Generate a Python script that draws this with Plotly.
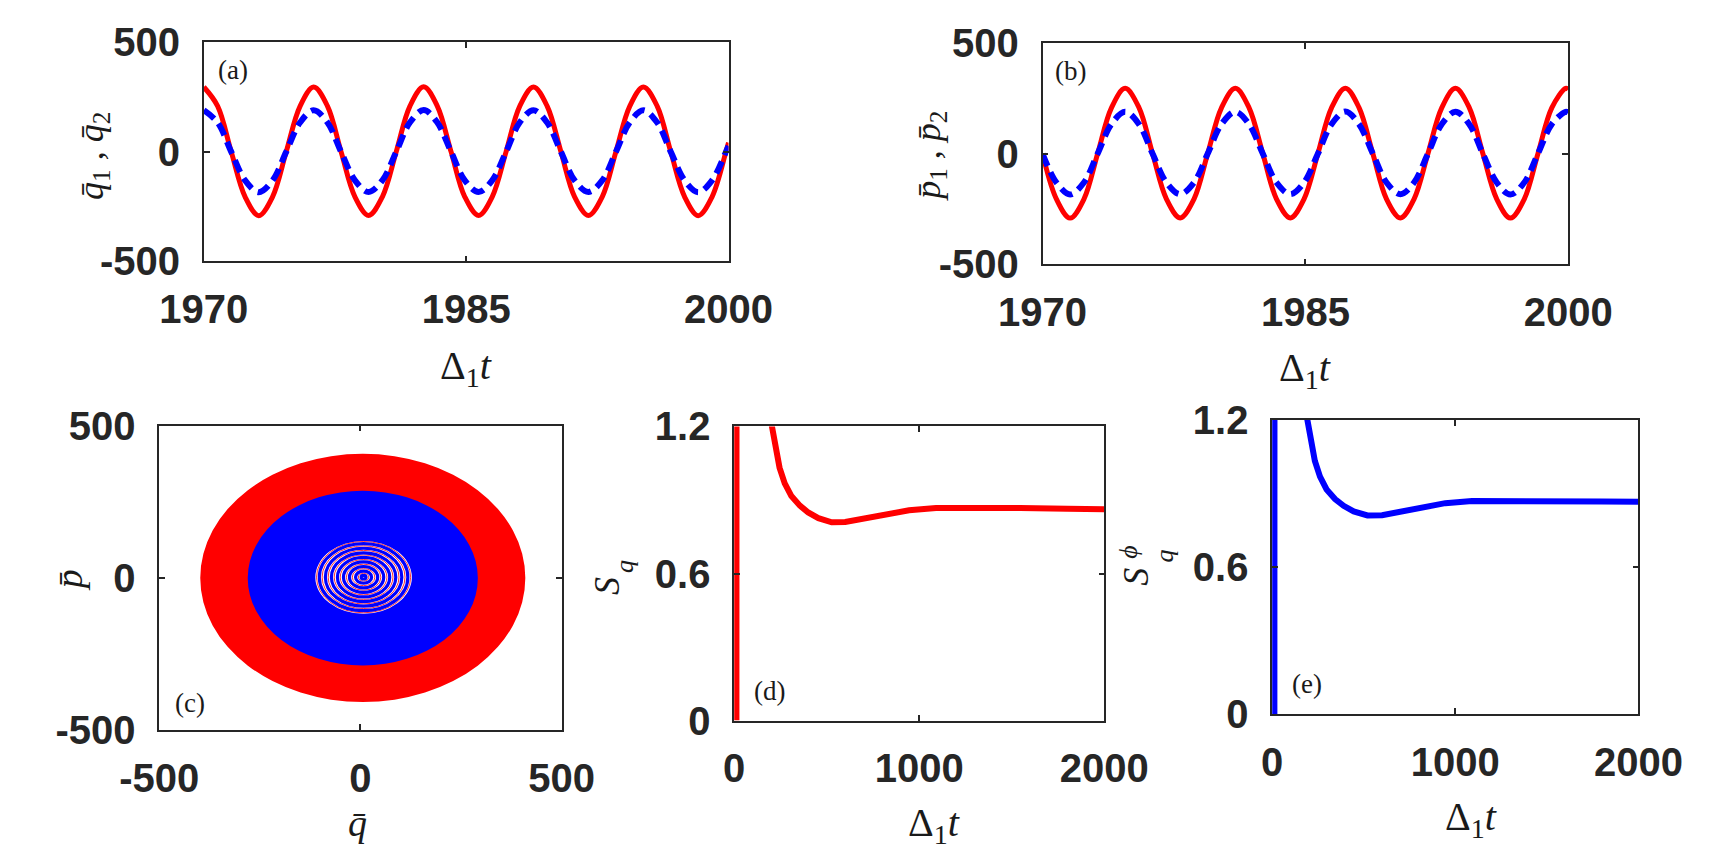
import plotly.graph_objects as go

W, H = 1720, 855

# ---------------- data ----------------
# panels (a),(b): time axis
t_top = [1970.00, 1970.79, 1971.57, 1972.36, 1973.14, 1973.93, 1974.71, 1975.50,
         1976.28, 1977.07, 1977.85, 1978.64, 1979.42, 1980.21, 1981.00, 1981.78,
         1982.57, 1983.35, 1984.14, 1984.92, 1985.71, 1986.49, 1987.28, 1988.06,
         1988.85, 1989.63, 1990.42, 1991.20, 1991.99, 1992.78, 1993.56, 1994.35,
         1995.13, 1995.92, 1996.70, 1997.49, 1998.27, 1999.06, 1999.85, 2000.00]
q1 = [296, 209, 0, -205, -291, -205, 0, 208,
      296, 209, 0, -205, -290, -205, 0, 208,
      297, 209, 0, -205, -290, -205, 0, 208,
      296, 209, 0, -205, -290, -205, 0, 208,
      296, 209, 0, -205, -291, -205, 0, 42]
q2 = [190, 134, 0, -130, -184, -130, 0, 134,
      190, 134, 0, -130, -183, -130, 0, 134,
      191, 134, 0, -130, -183, -130, 0, 134,
      190, 134, 0, -130, -183, -130, 0, 134,
      190, 134, 0, -130, -184, -130, 0, 27]
p1 = [0, -205, -291, -205, 0, 208, 296, 209,
      0, -205, -290, -205, 0, 208, 296, 209,
      0, -205, -290, -205, 0, 208, 297, 209,
      0, -205, -290, -205, 0, 208, 296, 209,
      0, -205, -291, -205, 0, 208, 296, 292]
p2 = [0, -130, -184, -130, 0, 134, 190, 134,
      0, -130, -183, -130, 0, 134, 190, 134,
      0, -130, -183, -130, 0, 134, 191, 134,
      0, -130, -183, -130, 0, 134, 190, 134,
      0, -130, -184, -130, 0, 134, 190, 187]

# panel (c): phase-space regions (q extents, p extents)
red_q_ext = [-398, 410]
red_p_ext = [-408, 407]
blue_q_ext = [-280, 292]
blue_p_ext = [-288, 286]
inner_q_ext = [-112, 128]
inner_p_ext = [-118, 121]
spiral_center = [8, 2]
blue_ring_r = [6, 20, 35, 50, 65, 80, 95, 110]
red_ring_r = [13, 28, 43, 58, 73, 88, 103, 117]

# panels (d),(e)
t_Sq = [12, 14, 204, 222, 245, 273, 309, 355, 400, 455, 527, 600, 691, 818, 945,
        1091, 1273, 1545, 1800, 2000]
Sq = [0, 6.0, 1.2, 1.116, 1.032, 0.968, 0.916, 0.877, 0.849, 0.826, 0.809, 0.810,
      0.822, 0.843, 0.858, 0.867, 0.868, 0.867, 0.864, 0.862]
t_Sphi = [12, 14, 192, 210, 233, 261, 297, 343, 390, 445, 520, 600, 691, 818, 945,
          1091, 1273, 1545, 1800, 2000]
Sphi = [0, 6.0, 1.2, 1.116, 1.032, 0.968, 0.916, 0.877, 0.849, 0.826, 0.810, 0.811,
        0.823, 0.845, 0.860, 0.869, 0.870, 0.869, 0.867, 0.866]

# tick labels
ticks_pm500 = [-500, 0, 500]
ticks_pm500_txt = ["-500", "0", "500"]
ticks_years = [1970, 1985, 2000]
ticks_years_txt = ["1970", "1985", "2000"]
ticks_t = [0, 1000, 2000]
ticks_t_txt = ["0", "1000", "2000"]
ticks_S = [0, 0.6, 1.2]
ticks_S_txt = ["0", "0.6", "1.2"]

RED = "#FF0000"
BLUE = "#0000FF"
AX = "#262626"
TXT = "#1a1a1a"

# ---------------- layout helpers ----------------
def dx(l, r):
    return [l / W, r / W]

def dy(t, b):
    return [1 - b / H, 1 - t / H]

boxes = {
    1: (160, 713, 13, 244),
    2: (1044, 1598, 14, 247),
    3: (113, 537, 417, 738),
    4: (719, 1109, 418, 728),
    5: (1286, 1672, 411, 721),
}

tickfont = dict(family="Liberation Sans", size=40, color=AX, weight="bold")

def xaxis(i, rng, tv, tt):
    l, r, t, b = boxes[i]
    return dict(domain=dx(l, r), range=rng, tickvals=tv, ticktext=tt, anchor="y" + ("" if i == 1 else str(i)),
                showline=True, linecolor=AX, linewidth=1.5, mirror="ticks", ticks="inside",
                ticklen=6, tickwidth=1.5, tickcolor=AX, tickfont=tickfont, showgrid=False,
                zeroline=False, ticklabelstandoff=12)

def yaxis(i, rng, tv, tt):
    l, r, t, b = boxes[i]
    return dict(domain=dy(t, b), range=rng, tickvals=tv, ticktext=tt, anchor="x" + ("" if i == 1 else str(i)),
                showline=True, linecolor=AX, linewidth=1.5, mirror="ticks", ticks="inside",
                ticklen=6, tickwidth=1.5, tickcolor=AX, tickfont=tickfont, showgrid=False,
                zeroline=False, ticklabelstandoff=14)

fig = go.Figure()

# (a)
fig.add_trace(go.Scatter(x=t_top, y=q1, mode="lines", line=dict(color=RED, width=5, shape="spline"),
                         xaxis="x", yaxis="y"))
fig.add_trace(go.Scatter(x=t_top, y=q2, mode="lines",
                         line=dict(color=BLUE, width=6, shape="spline", dash="13px,7px"),
                         xaxis="x", yaxis="y"))
# (b)
fig.add_trace(go.Scatter(x=t_top, y=p1, mode="lines", line=dict(color=RED, width=5, shape="spline"),
                         xaxis="x2", yaxis="y2"))
fig.add_trace(go.Scatter(x=t_top, y=p2, mode="lines",
                         line=dict(color=BLUE, width=6, shape="spline", dash="13px,7px"),
                         xaxis="x2", yaxis="y2"))
# (d)
fig.add_trace(go.Scatter(x=t_Sq, y=Sq, mode="lines", line=dict(color=RED, width=6),
                         xaxis="x4", yaxis="y4"))
# (e)
fig.add_trace(go.Scatter(x=t_Sphi, y=Sphi, mode="lines", line=dict(color=BLUE, width=6),
                         xaxis="x5", yaxis="y5"))

# (c) phase space as shapes in data coords
shapes = []
def disk(qe, pe, color):
    shapes.append(dict(type="circle", xref="x3", yref="y3", x0=qe[0], x1=qe[1], y0=pe[0], y1=pe[1],
                       fillcolor=color, line=dict(width=0, color="rgba(0,0,0,0)"), layer="below"))
disk(red_q_ext, red_p_ext, RED)
disk(blue_q_ext, blue_p_ext, BLUE)
disk(inner_q_ext, inner_p_ext, "#FFFFFF")
cq, cp = spiral_center
for r in red_ring_r:
    shapes.append(dict(type="circle", xref="x3", yref="y3", x0=cq - r, x1=cq + r, y0=cp - r, y1=cp + r,
                       line=dict(width=0.8, color=RED), layer="below"))
for r in blue_ring_r:
    shapes.append(dict(type="circle", xref="x3", yref="y3", x0=cq - r, x1=cq + r, y0=cp - r, y1=cp + r,
                       line=dict(width=3.2, color=BLUE), layer="below"))

# annotations (axis titles and panel labels)
ann = []
serif = "Liberation Serif, Times New Roman, serif"
def label(txt, x, y, size=38, angle=0):
    ann.append(dict(text=txt, x=x / W, y=1 - y / H, xref="paper", yref="paper", showarrow=False,
                    xanchor="center", yanchor="middle", textangle=angle,
                    font=dict(family=serif, size=size, color=TXT)))

dt = "Δ<sub>1</sub><i>t</i>"
label(dt, 436, 356, size=40)
label(dt, 1321, 358, size=40)
label(dt, 930, 838, size=40)
label(dt, 1495, 832, size=40)
label("<i>q̄</i>", 322, 836, size=38)
label("<i>q̄</i><sub>1</sub> , <i>q̄</i><sub>2</sub>", 43, 133, size=36, angle=-90)
label("<i>p̄</i><sub>1</sub> , <i>p̄</i><sub>2</sub>", 925, 133, size=36, angle=-90)
label("<i>p̄</i>", 18, 580, size=38, angle=-90)
# S_q (d)
label("<i>S</i>", 585, 586, size=36, angle=-90)
label("<i>q</i>", 604, 566, size=26, angle=-90)
# S_q^phi (e)
label("<i>S</i>", 1143, 577, size=36, angle=-90)
label("<i>q</i>", 1172, 555, size=26, angle=-90)
label("<i>ϕ</i>", 1135, 550, size=26, angle=-90)

def panel(txt, x, y):
    ann.append(dict(text=txt, x=x / W, y=1 - y / H, xref="paper", yref="paper", showarrow=False,
                    xanchor="left", yanchor="middle",
                    font=dict(family=serif, size=27, color=TXT)))
panel("(a)", 173, 42)
panel("(b)", 1055, 43)
panel("(c)", 127, 710)
panel("(d)", 738, 697)
panel("(e)", 1305, 690)

fig.update_layout(
    width=W, height=H, margin=dict(l=0, r=0, t=0, b=0),
    paper_bgcolor="white", plot_bgcolor="white", showlegend=False,
    xaxis=xaxis(1, [1970, 2000], ticks_years, ticks_years_txt),
    yaxis=yaxis(1, [-500, 500], ticks_pm500, ticks_pm500_txt),
    xaxis2=xaxis(2, [1970, 2000], ticks_years, ticks_years_txt),
    yaxis2=yaxis(2, [-500, 500], ticks_pm500, ticks_pm500_txt),
    xaxis3=xaxis(3, [-500, 500], ticks_pm500, ticks_pm500_txt),
    yaxis3=yaxis(3, [-500, 500], ticks_pm500, ticks_pm500_txt),
    xaxis4=xaxis(4, [0, 2000], ticks_t, ticks_t_txt),
    yaxis4=yaxis(4, [0, 1.2], ticks_S, ticks_S_txt),
    xaxis5=xaxis(5, [0, 2000], ticks_t, ticks_t_txt),
    yaxis5=yaxis(5, [0, 1.2], ticks_S, ticks_S_txt),
    shapes=shapes, annotations=ann,
)

fig.write_html("out.html")
